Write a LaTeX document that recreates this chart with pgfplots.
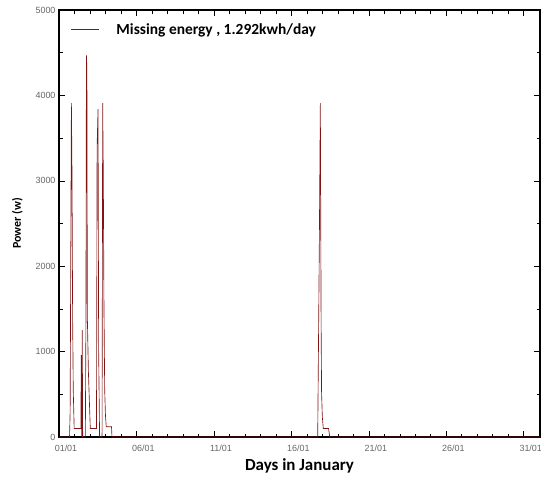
\documentclass[border=0pt]{standalone}
\usepackage{pgfplots}
\pgfplotsset{compat=1.18}
\usepackage{fontspec}
\setmainfont{Carlito}
\newfontfamily\arial{Liberation Sans}
\definecolor{lc}{RGB}{128,20,20}
\begin{document}
\begin{tikzpicture}
\begin{axis}[name=ax, scale only axis, width=481bp, height=427bp,
  xmin=0, xmax=31.05, ymin=0, ymax=5000,
  xtick={0,5,...,30}, xticklabels={01/01,06/01,11/01,16/01,21/01,26/01,31/01},
  minor x tick num=4,
  ytick={0,1000,...,5000}, minor y tick num=1,
  tick align=inside, major tick length=6bp, minor tick length=3.5bp,
  tick style={black, line width=0.6pt},
  axis line style={line width=1.2pt},
  ticklabel style={font=\arial\fontsize{9}{10}\selectfont, text=black!60},
  /pgf/number format/assume math mode=true,
  /pgf/number format/1000 sep={},
  xticklabel style={xshift=7bp, yshift=-4bp},
  xlabel={Days in January}, xlabel style={font=\bfseries\fontsize{17}{20}\selectfont, yshift=-1bp},
  ylabel={Power (w)}, ylabel style={font=\bfseries\fontsize{12}{14}\selectfont, yshift=6bp},
  legend style={at={(0.018,0.978)}, anchor=north west, draw=none, fill=none,
    font=\bfseries\fontsize{15.5}{18}\selectfont},
  legend cell align=left,
  legend image code/.code={\draw[#1] (0bp,0bp) -- (28bp,0bp);},
]
\addplot[lc, line width=0.65pt] coordinates {
(0,0) (0.68,0) (0.72,300) (0.76,2150) (0.80,3910) (0.84,3060) (0.88,1400) (0.92,550) (0.98,100)
(1.41,100) (1.44,960) (1.47,0) (1.50,1250) (1.53,0)
(1.70,0) (1.74,1400) (1.77,4470) (1.80,4320) (1.83,1400) (1.90,750) (2.02,100)
(2.42,100) (2.46,3400) (2.52,3840) (2.56,1000) (2.62,0)
(2.78,0) (2.82,3910) (2.86,3070) (2.90,1600) (2.95,550) (3.00,250) (3.05,120)
(3.39,120) (3.42,0)
(16.70,0) (16.80,2150) (16.87,3910) (16.92,1330) (16.95,515) (17.00,230) (17.06,100)
(17.40,100) (17.48,0) (31.05,0)
};
\addlegendentry{\hspace{15bp}Missing energy , 1.292kwh/day}
\end{axis}
\pgfresetboundingbox
\path ([xshift=-59bp,yshift=-40bp]ax.south west) rectangle ([xshift=1bp,yshift=10bp]ax.north east);
\end{tikzpicture}
\end{document}
